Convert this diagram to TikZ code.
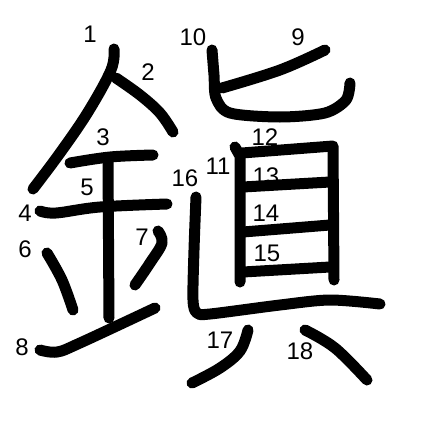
\documentclass[tikz,border=0pt]{standalone}
\usepackage{fontspec}
\setmainfont{Liberation Sans}
\usetikzlibrary{positioning}
\tikzset{
  stroke/.style={line width=11pt, line cap=round, line join=round},
  num/.style={font=\fontsize{24}{24}\selectfont, inner sep=0pt}
}
\begin{document}
\begin{tikzpicture}[x=1pt, y=-1pt]
  \useasboundingbox[fill=white] (0,0) rectangle (447,447);
  % Left -- kanemen
  \draw[stroke] plot[smooth, tension=0.6] coordinates {(114,49) (111,70) (88,112) (60,153) (33,189)};
  \draw[stroke] plot[smooth, tension=0.6] coordinates {(116,78) (140,95) (160,113) (173,132)};
  \draw[stroke] plot[smooth, tension=0.6] coordinates {(70,163) (110,157) (153,155)};
  \draw[stroke] plot[smooth, tension=0.6] coordinates {(40,211) (56,213) (100,207) (167,204)};
  \draw[stroke] (108,160) -- (109,318);
  \draw[stroke] plot[smooth, tension=0.6] coordinates {(47,253) (62,280) (73,310)};
  \draw[stroke] plot[smooth, tension=0.6] coordinates {(158,231) (162,243) (150,263) (135,285)};
  \draw[stroke] plot[smooth, tension=0.6] coordinates {(40,350) (57,352) (80,343) (155,308)};
  % Right -- shin
  \draw[stroke] plot[smooth, tension=0.6] coordinates {(325,50) (280,70) (222,88)};
  \draw[stroke] plot[smooth, tension=0.5] coordinates {(212,50) (214,75) (216,98) (230,113) (280,117) (325,113) (346,100) (350,83)};
  \draw[stroke] (235,147) -- (240,156) -- (240,282);
  \draw[stroke] (242,153) -- (333,146) -- (334,280);
  \draw[stroke] (243,187) -- (330,182);
  \draw[stroke] (243,232) -- (330,225);
  \draw[stroke] (243,272) -- (330,267);
  \draw[stroke] plot[smooth, tension=0.5] coordinates {(196,197) (194,250) (193,300) (197,313) (210,314) (280,305) (330,300) (380,304)};
  \draw[stroke] plot[smooth, tension=0.6] coordinates {(248,330) (240,351) (220,368) (192,383)};
  \draw[stroke] plot[smooth, tension=0.6] coordinates {(305,330) (335,348) (367,380)};
  % Stroke numbers
  \node[num] (n1) at (90,34) {1};
  \node[num] (n2) at (148,72) {2};
  \node[num] (n3) at (103,137) {3};
  \node[num] (n4) at (25,213) {4};
  \node[num] (n5) at (87,187) {5};
  \node[num] (n6) at (25,249) {6};
  \node[num] (n7) at (142,237) {7};
  \node[num] (n8) at (22,347) {8};
  \node[num] (n9) at (298,37) {9};
  \node[num] (n10) at (193,37) {10};
  \node[num] (n11) at (218,166) {11};
  \node[num] (n12) at (265,137) {12};
  \node[num] (n13) at (266,176) {13};
  \node[num] (n14) at (266,213) {14};
  \node[num] (n15) at (267,253) {15};
  \node[num] (n16) at (185,178) {16};
  \node[num] (n17) at (220,340) {17};
  \node[num] (n18) at (300,351) {18};
\end{tikzpicture}
\end{document}
